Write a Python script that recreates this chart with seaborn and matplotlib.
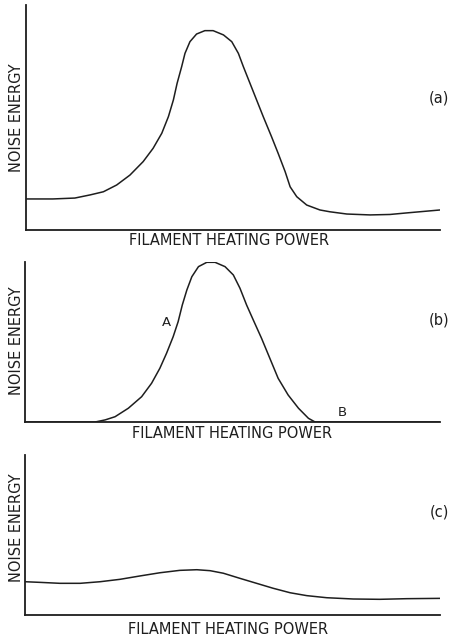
import matplotlib
matplotlib.use("Agg")
import matplotlib.pyplot as plt
import seaborn as sns

# ---- data (arbitrary units: power 0-100, noise energy 0-100 of axis height) ----
power_a = [0, 6.5, 11.8, 15.5, 18.7, 21.9, 25.1, 28.3, 30.7, 32.8, 34.4, 35.6, 36.5,
           37.6, 38.4, 39.6, 41.2, 43.2, 45.2, 47.7, 49.7, 51.3, 52.5, 54.1, 55.7,
           57.3, 59.3, 60.9, 62.6, 63.8, 65.4, 67.8, 71.0, 73.4, 77.5, 83.1, 87.9, 92.0, 100]
noise_a = [13.8, 13.8, 14.2, 15.6, 17.0, 20.0, 24.4, 30.4, 36.3, 43.0, 50.4, 57.8, 65.2,
           72.6, 78.5, 83.7, 87.1, 88.6, 88.6, 86.7, 83.7, 78.5, 72.6, 65.2, 57.8,
           50.4, 41.5, 34.1, 25.9, 19.2, 14.8, 11.1, 8.9, 8.1, 7.1, 6.7, 6.9, 7.6, 8.9]

power_b = [0, 16.9, 19.3, 21.7, 24.9, 28.1, 30.5, 32.5, 34.1, 35.7, 36.9, 37.9, 39.0,
           40.2, 41.8, 43.8, 45.8, 48.2, 50.2, 51.8, 53.4, 55.0, 57.0, 59.0, 61.0,
           63.4, 65.9, 68.3, 69.9, 100]
noise_b = [0, 0, 1.3, 3.3, 8.6, 15.8, 24.2, 33.6, 42.9, 53.3, 62.7, 73.1, 82.5,
           90.8, 97.1, 99.8, 99.8, 97.1, 91.9, 83.6, 73.1, 63.8, 52.3, 39.8, 27.3,
           16.9, 8.6, 2.3, 0, 0]

power_c = [0, 3.6, 8.4, 13.3, 18.1, 22.9, 27.7, 32.5, 37.3, 41.4, 44.6, 47.8, 51.8,
           55.8, 59.8, 63.9, 67.9, 72.7, 79.1, 85.5, 92.0, 100]
noise_c = [20.8, 20.4, 19.8, 19.8, 20.8, 22.3, 24.4, 26.4, 27.9, 28.3, 27.7, 26.1, 22.9,
           19.8, 16.7, 13.9, 12.1, 10.8, 10.0, 9.8, 10.2, 10.4]

panel_tags = ["(a)", "(b)", "(c)"]
x_label = "FILAMENT HEATING POWER"
y_label = "NOISE ENERGY"
point_labels = ["A", "B"]
point_pos = [(34.2, 62.0), (76.5, 6.0)]

# ---- figure ----
sns.set_style("white")
plt.rcParams["font.family"] = ["DejaVu Sans"]

W, H = 450, 637
fig = plt.figure(figsize=(W / 100, H / 100), dpi=100)
fig.patch.set_facecolor("white")

ink = "#1e1e1e"

def px_rect(left, right, top, bottom):
    return [left / W, 1 - bottom / H, (right - left) / W, (bottom - top) / H]

panels = [
    dict(rect=px_rect(26, 440, 5, 230), x=power_a, y=noise_a,
         tag_xy=(449, 98), xl_xy=(229, 241), yl_xy=(17, 118)),
    dict(rect=px_rect(25, 440, 262, 422), x=power_b, y=noise_b,
         tag_xy=(449, 320), xl_xy=(232, 434), yl_xy=(17, 341)),
    dict(rect=px_rect(25, 440, 455, 615), x=power_c, y=noise_c,
         tag_xy=(449, 512), xl_xy=(228, 630), yl_xy=(17, 528)),
]

axes = []
for i, p in enumerate(panels):
    ax = fig.add_axes(p["rect"])
    sns.lineplot(x=p["x"], y=p["y"], ax=ax, color=ink, linewidth=1.1,
                 solid_joinstyle="round", solid_capstyle="round")
    ax.set_xlim(0, 100)
    ax.set_ylim(0, 100)
    ax.set_xticks([])
    ax.set_yticks([])
    ax.set_xlabel("")
    ax.set_ylabel("")
    sns.despine(ax=ax)
    for s in ("left", "bottom"):
        ax.spines[s].set_color(ink)
        ax.spines[s].set_linewidth(1.3)
    ax.patch.set_alpha(0)
    axes.append(ax)

    fig.text(p["tag_xy"][0] / W, 1 - p["tag_xy"][1] / H, panel_tags[i],
             ha="right", va="center", fontsize=10.5, color=ink)
    fig.text(p["xl_xy"][0] / W, 1 - p["xl_xy"][1] / H, x_label,
             ha="center", va="center", fontsize=10.5, color=ink)
    fig.text(p["yl_xy"][0] / W, 1 - p["yl_xy"][1] / H, y_label,
             ha="center", va="center", rotation=90, fontsize=10.5, color=ink)

for lab, (px, py) in zip(point_labels, point_pos):
    axes[1].text(px, py, lab, ha="center", va="center", fontsize=9.5, color=ink)

fig.savefig("out.png", dpi=100, facecolor="white")
